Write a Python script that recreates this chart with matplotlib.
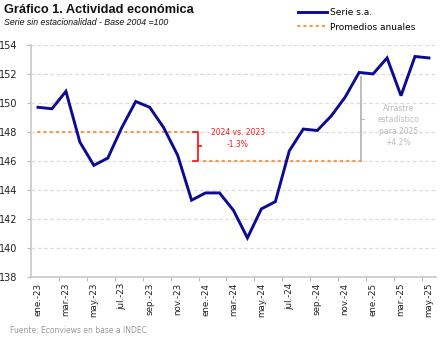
import matplotlib
matplotlib.use("Agg")
import matplotlib.pyplot as plt
from matplotlib.ticker import FixedLocator


MESES = ["ene", "feb", "mar", "abr", "may", "jun",
         "jul", "ago", "sep", "oct", "nov", "dic"]

fechas = [f"{m}.-{a}" for a in ("23", "24") for m in MESES] + \
    [f"{m}.-25" for m in MESES[:5]]

serie_sa = [
    149.7, 149.6, 150.8, 147.3, 145.7, 146.2, 148.3, 150.1, 149.7, 148.3, 146.4, 143.3,
    143.8, 143.8, 142.6, 140.7, 142.7, 143.2, 146.7, 148.2, 148.1, 149.1, 150.4, 152.1,
    152.0, 153.1, 150.5, 153.2, 153.1,
]

prom_2023 = 148.0
prom_2024 = 146.0
var_24_23 = -1.3
arrastre_25 = 4.2

AZUL = "#0b0b94"
NARANJA = "#f79646"
ROJO = "#ff1a1a"
GRIS = "#bdbdbd"

fig = plt.figure(figsize=(4.43, 3.40), dpi=100)
ax = fig.add_axes([0.070, 0.185, 0.914, 0.683])

x = list(range(len(serie_sa)))

ax.plot(x, serie_sa, color=AZUL, lw=2.1, label="Serie s.a.", zorder=4,
        solid_joinstyle="miter")

# promedios anuales
ax.plot([0, 11.1], [prom_2023, prom_2023], color=NARANJA, lw=1.6,
        linestyle=(0, (0.6, 2.2)), dash_capstyle="round",
        label="Promedios anuales", zorder=3)
ax.plot([11.9, 23.1], [prom_2024, prom_2024], color=NARANJA, lw=1.6,
        linestyle=(0, (0.6, 2.2)), dash_capstyle="round", zorder=3)

# corchete de la variacion 2024 vs 2023
xb = 11.45
ax.plot([xb - 0.35, xb, xb, xb - 0.35], [prom_2023, prom_2023, prom_2024, prom_2024],
        color=ROJO, lw=1.3, zorder=5)
ax.plot([xb, xb + 0.25], [(prom_2023 + prom_2024) / 2] * 2, color=ROJO, lw=1.3, zorder=5)
ax.text(14.3, 147.55, f"2024 vs. 2023\n{var_24_23:.1f}%",
        color=ROJO, fontsize=5.5, ha="center", va="center", linespacing=1.4)

# arrastre estadistico
xg = 23.15
top_g = prom_2024 * (1 + arrastre_25 / 100) - 0.35
ax.plot([xg, xg], [prom_2024, top_g], color=GRIS, lw=1.4, zorder=2)
ax.plot([xg, xg + 0.2], [(prom_2024 + top_g) / 2] * 2, color=GRIS, lw=0.8, zorder=2)
ax.text(25.8, 148.45, f"Arrastre\nestadístico\npara 2025\n+{arrastre_25:.1f}%",
        color=GRIS, fontsize=5.5, ha="center", va="center", linespacing=1.35)

ax.set_xlim(-0.5, 28.5)
ax.set_ylim(138, 154)
ax.set_yticks(range(138, 155, 2))
ax.grid(axis="y", color="#dcdcdc", linestyle=(0, (3, 2)), lw=0.9)
ax.set_axisbelow(True)

ax.set_xticks(x[::2])
ax.set_xticklabels(fechas[::2], rotation=90, fontsize=6.3, color="#222222")
ax.xaxis.set_minor_locator(FixedLocator([i + 1.5 for i in range(0, 28, 2)]))
ax.tick_params(axis="x", which="major", length=0, pad=4)
ax.tick_params(axis="x", which="minor", length=3, color="#bbbbbb", width=0.8)
ax.tick_params(axis="y", length=3, color="#bbbbbb", width=0.8, labelsize=7,
               pad=7, labelcolor="#222222")

for lado in ("top", "right"):
    ax.spines[lado].set_visible(False)
for lado in ("left", "bottom"):
    ax.spines[lado].set_color("#c8c8c8")
    ax.spines[lado].set_linewidth(1.2)

fig.text(0.008, 0.970, "Gráfico 1. Actividad económica", fontsize=9.2,
         family="Liberation Sans", fontweight="bold", ha="left", va="center",
         color="#111111")
fig.text(0.008, 0.935, "Serie sin estacionalidad - Base 2004 =100", fontsize=6.3,
         family="Liberation Sans", style="italic", ha="left", va="center",
         color="#111111")
fig.text(0.022, 0.027, "Fuente: Econviews en base a INDEC", fontsize=5.5,
         ha="left", va="center", color="#999999")

fig.legend(loc="upper left", bbox_to_anchor=(0.655, 1.0), frameon=False,
           fontsize=6.5, handlelength=3.2, handletextpad=0.3, labelspacing=0.6)

plt.savefig("out.png", dpi=100)
plt.close()
